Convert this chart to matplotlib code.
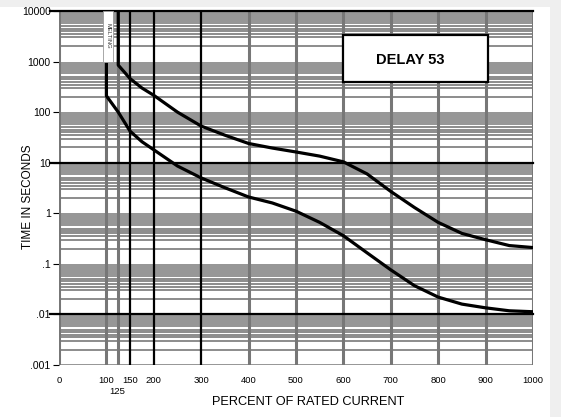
import matplotlib
matplotlib.use("Agg")
import matplotlib.pyplot as plt
from matplotlib.patches import Rectangle

# ---------------- data ----------------
upper_x = [125, 125, 150, 175, 200, 250, 300, 350, 400, 450, 500, 550, 600,
           650, 700, 750, 800, 850, 900, 950, 1000]
upper_y = [10000, 850, 460, 300, 215, 100, 53, 35, 24, 19.5, 16.3, 13.5, 10.4,
           6.0, 2.7, 1.3, 0.66, 0.40, 0.30, 0.23, 0.21]

lower_x = [100, 100, 125, 150, 175, 200, 250, 300, 350, 400, 450, 500, 550,
           600, 650, 700, 750, 800, 850, 900, 950, 1000]
lower_y = [10000, 210, 100, 42, 26, 18, 8.6, 5.0, 3.2, 2.1, 1.6, 1.1, 0.66,
           0.36, 0.165, 0.076, 0.037, 0.022, 0.016, 0.0135, 0.0118, 0.0113]

x_ticks = [0, 100, 150, 200, 300, 400, 500, 600, 700, 800, 900, 1000]
x_tick_labels = ["0", "100", "150", "200", "300", "400", "500", "600",
                 "700", "800", "900", "1000"]
y_ticks = [1e-3, 1e-2, 1e-1, 1, 10, 100, 1000, 10000]
y_tick_labels = [".001", ".01", ".1", "1", "10", "100", "1000", "10000"]
black_x_lines = [150, 200, 300]
gray_x_lines = [0, 100, 125, 400, 500, 600, 700, 800, 900, 1000]
black_y_lines = [0.01, 10, 10000]
minor_mults = [2, 3, 3.5, 4, 4.5, 5]

# ---------------- figure ----------------
W, H = 561, 417
fig = plt.figure(figsize=(W / 100, H / 100), dpi=100)
fig.patch.set_facecolor("#efefef")
bg = fig.add_axes([0, 0, 550 / W, (H - 7) / H])
bg.set_axis_off()
bg.add_patch(Rectangle((0, 0), 1, 1, transform=bg.transAxes, facecolor="white",
                       edgecolor="none"))
bg.set_zorder(0)

L, R, T, B = 59, 533, 11, 365
ax = fig.add_axes([L / W, (H - B) / H, (R - L) / W, (B - T) / H])
ax.set_zorder(2)
ax.set_facecolor("white")
ax.set_xlim(0, 1000)
ax.set_yscale("log")
ax.set_ylim(1e-3, 1e4)
for s in ax.spines.values():
    s.set_visible(False)

band_col = "#979797"
line_col = "#8c8c8c"
# horizontal bands and minor lines
for n in range(-3, 4):
    base = 10.0 ** n
    ax.axhspan(5.6 * base, 10 * base, color=band_col, lw=0, zorder=1)
    for m in minor_mults:
        ax.axhline(m * base, color=line_col, lw=1.4, zorder=1)
ax.axhline(1e-3, color=line_col, lw=2.0, zorder=1)

# vertical grid lines
for xv in gray_x_lines:
    ax.axvline(xv, color="#777777", lw=2.2, zorder=2)
for xv in black_x_lines:
    ax.axvline(xv, color="black", lw=1.6, zorder=3)

# black horizontal lines extending left
for yv in black_y_lines:
    ax.plot([-0.02, 1], [yv, yv], transform=ax.get_yaxis_transform(),
            color="black", lw=1.6, clip_on=False, zorder=3)

# curves
ax.plot(upper_x, upper_y, color="black", lw=2.3, zorder=5,
        solid_joinstyle="round")
ax.plot(lower_x, lower_y, color="black", lw=2.3, zorder=5,
        solid_joinstyle="round")

# small rotated label box near 100%
ax.add_patch(Rectangle((93, 1000), 20, 9000, facecolor="white", edgecolor="#9a9a9a",
                       lw=0.6, zorder=6))
ax.text(103, 3200, "MELTING", rotation=270, fontsize=4.2, ha="center",
        va="center", zorder=7, family="Liberation Sans", color="#333333")

# DELAY 53 box
ax.add_patch(Rectangle((600, 395), 305, 3357 - 395,
                       facecolor="white", edgecolor="black", lw=1.6, zorder=6))
ax.text(740, 1077, "DELAY 53", fontsize=10.5, fontweight="bold", ha="center",
        va="center", zorder=7, family="Liberation Sans")

# ticks
ax.set_yticks(y_ticks)
ax.set_yticklabels(y_tick_labels, fontsize=7.5, family="Liberation Sans")
ax.yaxis.set_minor_locator(matplotlib.ticker.NullLocator())
ax.tick_params(axis="y", length=4, width=0.8, pad=2, color="black")
ax.set_xticks(x_ticks)
ax.set_xticklabels(x_tick_labels, fontsize=6.8, family="Liberation Sans")
ax.tick_params(axis="x", length=0, pad=8)
ax.text(123, (B - 391) / (B - T), "125", transform=ax.get_xaxis_transform(),
        fontsize=6.8, ha="center", va="center", family="Liberation Sans")

ax.set_xlabel("PERCENT OF RATED CURRENT", fontsize=9.2, family="Liberation Sans")
ax.xaxis.set_label_coords((308 - L) / (R - L), (B - 402) / (B - T))
ax.xaxis.label.set_va("center")
ax.set_ylabel("TIME IN SECONDS", fontsize=8.5, family="Liberation Sans")
ax.yaxis.set_label_coords((28 - L) / (R - L), (B - 197) / (B - T))
ax.yaxis.label.set_va("center")

fig.savefig("out.png", dpi=100)
